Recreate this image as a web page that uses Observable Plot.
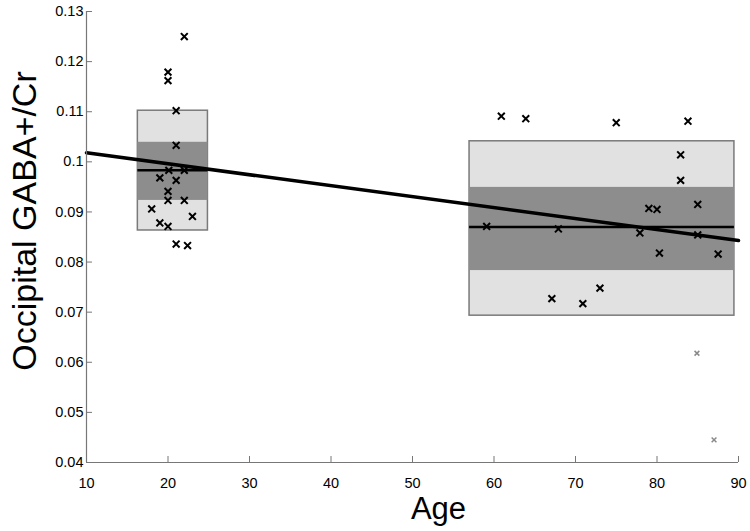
<!DOCTYPE html>
<html>
<head>
<meta charset="utf-8">
<script src="https://cdn.jsdelivr.net/npm/d3@7"></script>
<script src="https://cdn.jsdelivr.net/npm/@observablehq/plot@0.6"></script>
<style>
  html, body { margin: 0; padding: 0; background: #fff; }
  #chart svg { display: block; }
</style>
</head>
<body>
<div id="chart"></div>
<script>
// Young group (age, GABA+/Cr)
const youngAge = [22, 20, 20, 21, 21, 20.1, 22, 19, 21, 20, 20, 22, 18, 23, 19, 20, 21, 22.4];
const youngVal = [0.1250, 0.1179, 0.1162, 0.1102, 0.1033, 0.0983, 0.0983, 0.0968, 0.0963, 0.0941, 0.0923, 0.0923, 0.0906, 0.0891, 0.0878, 0.0871, 0.0836, 0.0833];
// Old group
const oldAge = [60.9, 63.9, 75.0, 83.8, 82.9, 82.9, 79.0, 80.0, 85.0, 59.1, 67.9, 77.9, 85.0, 80.3, 87.5, 73.0, 67.1, 70.9];
const oldVal = [0.1091, 0.1086, 0.1078, 0.1081, 0.1014, 0.0963, 0.0907, 0.0905, 0.0915, 0.0871, 0.0866, 0.0858, 0.0854, 0.0818, 0.0816, 0.0748, 0.0727, 0.0717];
// Excluded outliers (grey)
const outAge = [84.9, 87.0];
const outVal = [0.0618, 0.0445];
// Group summary boxes: [ageStart, ageEnd], mean, SD band (dark), 95% band (light)
const groups = ["young", "old"];
const groupAgeStart = [16.3, 57.0];
const groupAgeEnd = [24.9, 89.5];
const groupMean = [0.0983, 0.0870];
const groupDarkLo = [0.0923, 0.0783];
const groupDarkHi = [0.1039, 0.0949];
const groupLightLo = [0.0863, 0.0693];
const groupLightHi = [0.1102, 0.1041];
// Regression line endpoints
const regAge = [10, 90];
const regVal = [0.1018, 0.0843];
// Axis ticks
const xTicks = [10, 20, 30, 40, 50, 60, 70, 80, 90];
const yTicks = [0.04, 0.05, 0.06, 0.07, 0.08, 0.09, 0.1, 0.11, 0.12, 0.13];

const pts = youngAge.map((a, i) => ({age: a, v: youngVal[i]}))
  .concat(oldAge.map((a, i) => ({age: a, v: oldVal[i]})));
const outs = outAge.map((a, i) => ({age: a, v: outVal[i]}));
const boxes = groups.map((g, i) => ({
  g, x1: groupAgeStart[i], x2: groupAgeEnd[i], mean: groupMean[i],
  dlo: groupDarkLo[i], dhi: groupDarkHi[i], llo: groupLightLo[i], lhi: groupLightHi[i]
}));
const reg = regAge.map((a, i) => ({age: a, v: regVal[i]}));

const font = "'Liberation Sans', Arial, Helvetica, sans-serif";

const chart = Plot.plot({
  width: 750,
  height: 531,
  marginLeft: 86,
  marginRight: 12,
  marginTop: 11,
  marginBottom: 69,
  style: {fontFamily: font, fontSize: "13px", color: "#000", background: "#fff"},
  x: {domain: [10, 90], ticks: xTicks},
  y: {domain: [0.04, 0.13], ticks: yTicks},
  marks: [
    Plot.rect(boxes, {x1: "x1", x2: "x2", y1: "llo", y2: "lhi", fill: "#e1e1e1", stroke: "#7a7a7a", strokeWidth: 1.5}),
    Plot.rect(boxes, {x1: "x1", x2: "x2", y1: "dlo", y2: "dhi", fill: "#8d8d8d"}),
    Plot.ruleY(boxes, {x1: "x1", x2: "x2", y: "mean", stroke: "#000", strokeWidth: 2.5}),
    Plot.line(reg, {x: "age", y: "v", stroke: "#000", strokeWidth: 3.5}),
    Plot.dot(pts, {x: "age", y: "v", symbol: "times", r: 3.2, stroke: "#000", strokeWidth: 2}),
    Plot.dot(outs, {x: "age", y: "v", symbol: "times", r: 2.3, stroke: "#8a8a8a", strokeWidth: 1.5}),
    Plot.ruleX([10], {stroke: "#777", strokeWidth: 1.2}),
    Plot.ruleY([0.04], {stroke: "#777", strokeWidth: 1.2}),
    Plot.axisX({ticks: xTicks, tickSize: -6, tickPadding: 21, stroke: "#777", fontSize: 14.5, tickFormat: d => String(d), label: null}),
    Plot.axisY({ticks: yTicks, tickSize: -6, tickPadding: 9, stroke: "#777", fontSize: 14.5, tickFormat: d => String(+d.toFixed(2)), label: null}),
    Plot.text(["Age"], {frameAnchor: "bottom", dx: 26, dy: 56, fontSize: 31, fill: "#000"}),
    Plot.text(["Occipital GABA+/Cr"], {frameAnchor: "left", dx: -61, dy: -16, rotate: -90, textAnchor: "middle", fontSize: 34, fill: "#000"})
  ]
});
document.getElementById("chart").appendChild(chart);
</script>
</body>
</html>
